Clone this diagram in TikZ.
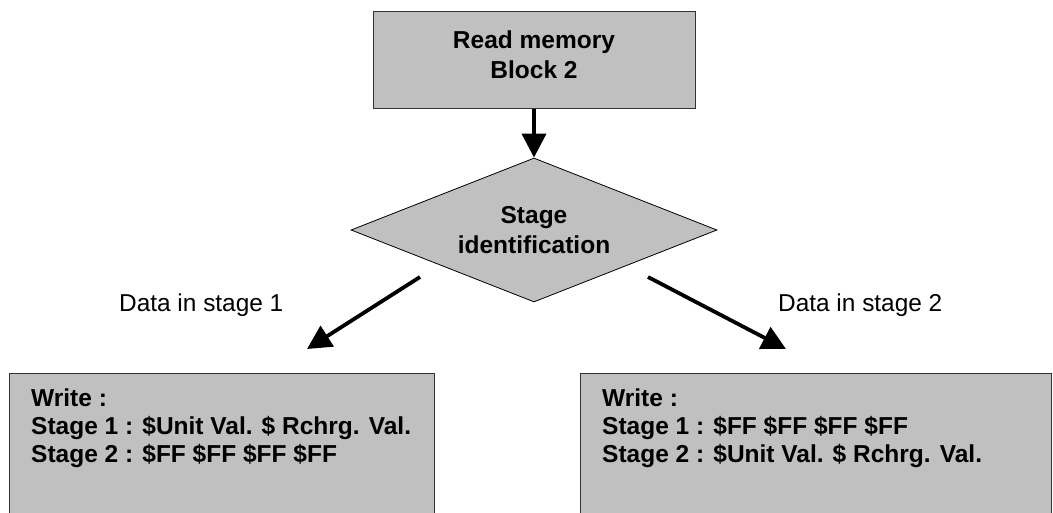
\documentclass[tikz,border=0pt]{standalone}
\usepackage{fontspec}
\setmainfont{Liberation Sans}
\usetikzlibrary{shapes.geometric,arrows.meta}
\definecolor{boxgray}{RGB}{192,192,192}
\begin{document}
\begin{tikzpicture}[x=1pt,y=-1pt,
  box/.style={draw=black!80,line width=1pt,fill=boxgray,inner sep=0pt},
  boldtext/.style={font=\bfseries\fontsize{24.5}{30}\selectfont,align=center},
  boxtext/.style={font=\bfseries\fontsize{24.5}{28}\selectfont,align=left,anchor=north west,inner sep=0pt},
  lbl/.style={font=\fontsize{24.4}{28}\selectfont,inner sep=0pt,anchor=base west},
  arr/.style={line width=3.8pt,-{Triangle[length=24pt,width=24pt]}}]
\useasboundingbox (0,0) rectangle (1053,513);
\fill[white] (0,0) rectangle (1053,513);
\begin{scope}
\clip (0,0) rectangle (1053,513);
% top process box
\node[box,minimum width=322pt,minimum height=97pt] (read) at (534,60.5) {};
\node[boldtext] (readtxt) at (534,55) {Read memory\\Block 2};
% decision
\node[diamond,draw=black,line width=0.8pt,fill=boxgray,minimum width=366pt,
      minimum height=144pt,inner sep=0pt,aspect=2.5,boldtext] (stage) at (534,230)
      {Stage\\identification};
% output boxes (run past the lower edge)
\node[box,anchor=north west,minimum width=425pt,minimum height=190pt] (left) at (9,373) {};
\node[box,anchor=north west,minimum width=471pt,minimum height=190pt] (right) at (580,373) {};
\node[boxtext] (lefttxt) at (31,389)
  {Write :\\Stage 1 : \$Unit Val. \$ Rchrg. Val.\\Stage 2 : \$FF \$FF \$FF \$FF};
\node[boxtext] (righttxt) at (602,389)
  {Write :\\Stage 1 : \$FF \$FF \$FF \$FF\\Stage 2 : \$Unit Val. \$ Rchrg. Val.};
\end{scope}
% branch labels
\node[lbl] (lab1) at (119,312) {Data in stage 1};
\node[lbl] (lab2) at (778,312) {Data in stage 2};
% connectors
\coordinate (l1) at (420,277);
\coordinate (l2) at (307,349);
\coordinate (r1) at (648,277);
\coordinate (r2) at (786,349);
\draw[arr] (read.south) -- (stage.north);
\draw[arr] (l1) -- (l2);
\draw[arr] (r1) -- (r2);
\end{tikzpicture}
\end{document}
